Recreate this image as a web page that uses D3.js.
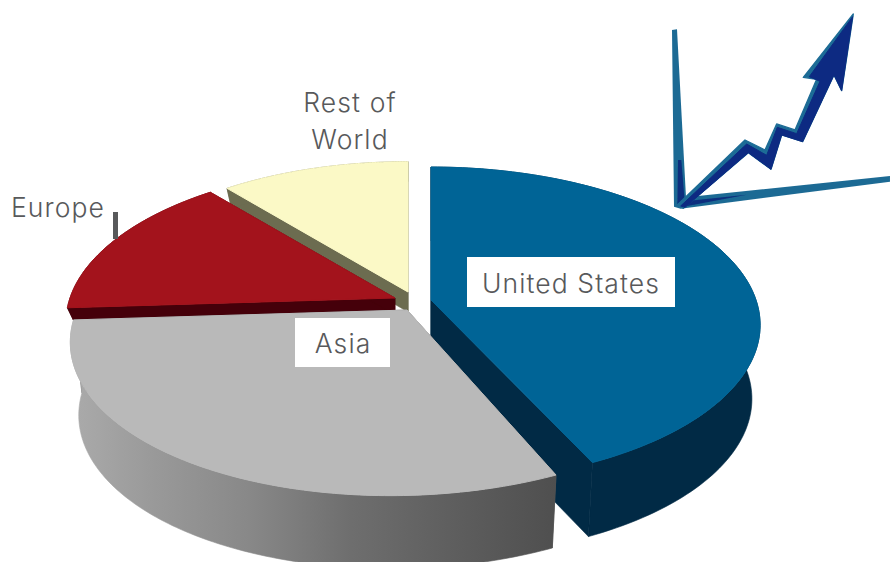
<!DOCTYPE html>
<html>
<head>
<meta charset="utf-8">
<script src="https://cdnjs.cloudflare.com/ajax/libs/d3/7.8.5/d3.min.js"></script>
<style>
html,body{margin:0;padding:0;background:#fff}
svg{display:block}
text{font-family:Inter,"Open Sans",sans-serif;font-weight:300;font-size:26.5px;fill:#58595b;letter-spacing:1.1px}
</style>
</head>
<body>
<svg id="chart" width="890" height="562"></svg>
<script>
// Revenue share by region
const regions = ["United States", "Asia", "Europe", "Rest of World"];
const shares = [43, 31, 15, 11];

// Per-slice styling and explosion
const topColors = ["#006496", "#b9b9b9", "#a3131c", "#fbf9c6"];
const wallColors = ["#012a45", "url(#asiaWall)", "#45000a", "#6c6c50"];
const apexX = [431, 407, 395, 408];
const apexY = [300, 310, 298, 292];
const radiusScale = [1, 1.015, 1, 0.98];
const skew = [0, -0.09, 0, 0];
const depth = [74, 73, 17, 20];
const paintOrder = [3, 2, 0, 1];

// Perspective of the disc: k foreshortens the far side
const k = -0.158, ay = 154, bx = 325, floorScale = 0.975;

const svg = d3.select("#chart");
const defs = svg.append("defs");

const wallGradient = defs.append("linearGradient")
  .attr("id", "asiaWall").attr("gradientUnits", "userSpaceOnUse")
  .attr("x1", 70).attr("x2", 555).attr("y1", 0).attr("y2", 0);
[[0, "#ababab"], [0.165, "#9a9a9a"], [0.37, "#888888"], [0.58, "#6e6e6e"], [0.78, "#5f5f5f"], [1, "#4f4f4f"]]
  .forEach(([o, c]) => wallGradient.append("stop").attr("offset", o).attr("stop-color", c));

defs.append("filter").attr("id", "soft")
  .append("feGaussianBlur").attr("stdDeviation", 0.8);

const arcs = d3.pie().sort(null).value(d => d)(shares);

// Screen position of a disc point at angle a (clockwise from the top), radius r
function project(i, a, r, lowered) {
  const u = Math.sin(a) * r, v = -Math.cos(a) * r;
  const w = 1 + k * v;
  const s = radiusScale[i];
  const Y = s * ay * v / w;
  let X = s * bx * u / w + skew[i] * Y;
  if (lowered) X *= floorScale;
  return [apexX[i] + X, apexY[i] + Y + (lowered ? depth[i] : 0)];
}

const line = d3.line();
const steps = a => d3.range(0, 121).map(t => a.startAngle + (a.endAngle - a.startAngle) * t / 120);

paintOrder.forEach(i => {
  const a = arcs[i];
  const g = svg.append("g").attr("class", "slice");
  const rim = steps(a);
  const upper = rim.map(t => project(i, t, 1, false));
  const lower = rim.map(t => project(i, t, 1, true));
  const hub = project(i, 0, 0, false), hubLow = project(i, 0, 0, true);
  const wallFill = wallColors[i];

  // Cut faces along both radii, then the outer wall, then the top;
  // hairline strokes close the seams between neighbouring faces
  [[upper[0], lower[0]], [upper[120], lower[120]]].forEach(([p, q]) => {
    const flat = i === 1 ? "#5a5a5a" : wallFill;
    g.append("path").attr("d", line([hub, p, q, hubLow]) + "Z")
      .attr("fill", flat).attr("stroke", flat).attr("stroke-width", 0.6);
  });
  g.append("path").attr("d", line(upper.concat(lower.slice().reverse())) + "Z")
    .attr("fill", wallFill).attr("stroke", wallFill).attr("stroke-width", 0.6);
  g.append("path").attr("d", line([hub].concat(upper)) + "Z")
    .attr("fill", topColors[i]).attr("stroke", topColors[i]).attr("stroke-width", 1);
});

// Region labels
const boxes = [
  {x: 467, y: 257, w: 208, h: 50},
  {x: 295, y: 318, w: 95, h: 49}
];
boxes.forEach(b => svg.append("rect")
  .attr("x", b.x).attr("y", b.y).attr("width", b.w).attr("height", b.h).attr("fill", "#fff"));

svg.append("text").attr("x", 571).attr("y", 293).attr("text-anchor", "middle").text(regions[0]);
svg.append("text").attr("x", 343).attr("y", 353).attr("text-anchor", "middle").text(regions[1]);
svg.append("text").attr("x", 11).attr("y", 217).text(regions[2]);
svg.append("text").attr("x", 350).attr("y", 112).attr("text-anchor", "middle").text("Rest of");
svg.append("text").attr("x", 350).attr("y", 149).attr("text-anchor", "middle").text("World");

// Short leader under the Europe label
svg.append("rect").attr("x", 113).attr("y", 212).attr("width", 5).attr("height", 27).attr("fill", "#58595b");

// Rising-arrow emblem, outlined at three times its drawn size
const axesOutline = [[96, 90], [111, 88], [138, 592], [750, 528], [750, 545], [122, 626], [102, 620]];
const axesCorner = [[114, 480], [124, 480], [134, 604], [320, 584], [130, 620], [112, 616]];
const arrowOuter = [[112, 615], [315, 420], [375, 450], [410, 372], [465, 390], [530, 238], [490, 232], [640, 42],
  [605, 272], [582, 225], [488, 425], [425, 405], [393, 508], [325, 458], [130, 625]];
const arrowInner = [[122, 618], [320, 432], [380, 466], [412, 382], [470, 401], [540, 244], [508, 230], [638, 50],
  [605, 272], [582, 225], [488, 425], [425, 405], [393, 508], [325, 458], [135, 622]];

const emblem = svg.append("g")
  .attr("transform", "translate(640,0) scale(0.3333)")
  .attr("filter", "url(#soft)");
emblem.append("path").attr("d", line(axesOutline) + "Z").attr("fill", "#1c6a94");
emblem.append("path").attr("d", line(axesCorner) + "Z").attr("fill", "#0c2f7e");
emblem.append("path").attr("d", line(arrowOuter) + "Z").attr("fill", "#1d6c96")
  .attr("stroke", "#1d6c96").attr("stroke-width", 4).attr("stroke-linejoin", "round");
emblem.append("path").attr("d", line(arrowInner) + "Z").attr("fill", "#0c2a82")
  .attr("stroke", "#0c2a82").attr("stroke-width", 3).attr("stroke-linejoin", "round");
</script>
</body>
</html>
